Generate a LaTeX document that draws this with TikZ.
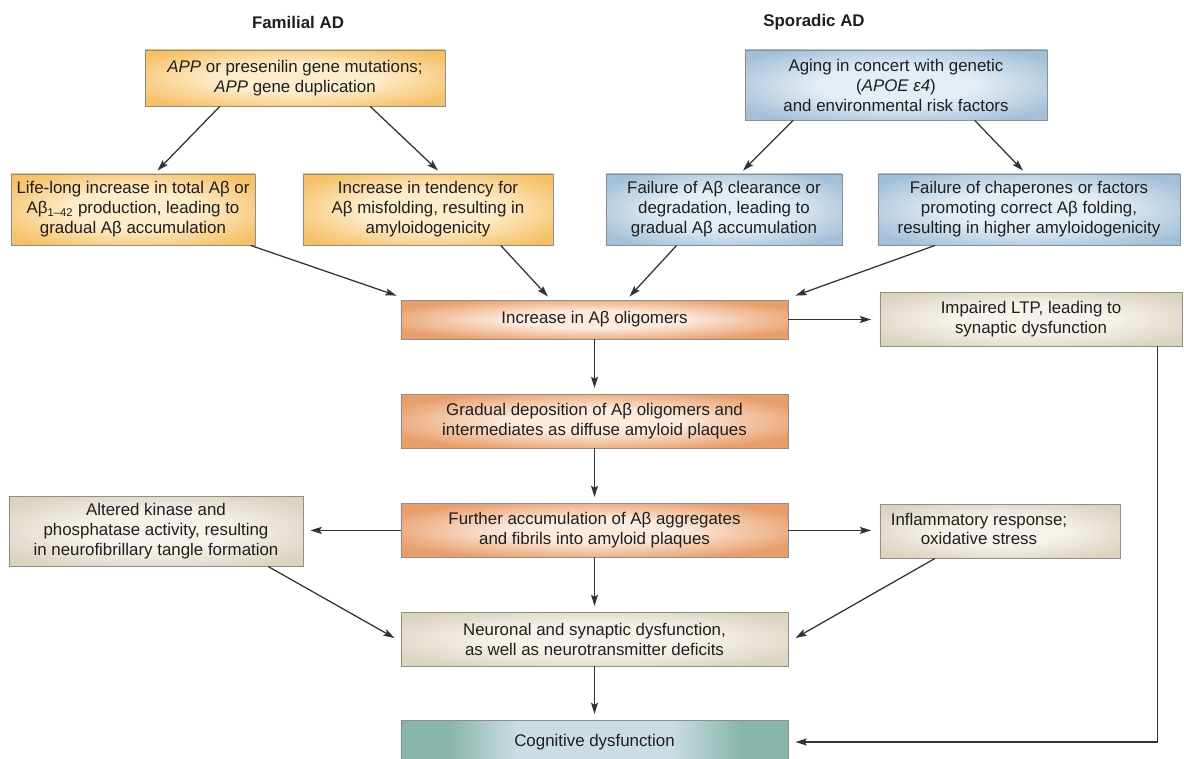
\documentclass[tikz,border=0pt]{standalone}
\usepackage{fontspec}
\setmainfont{Liberation Sans}
\usetikzlibrary{calc,arrows.meta}

\definecolor{famedge}{HTML}{F6C066}
\definecolor{famglow}{HTML}{FDECCB}
\definecolor{spoedge}{HTML}{A2BFD8}
\definecolor{spoglow}{HTML}{E4EDF4}
\definecolor{amyedge}{HTML}{E89E6B}
\definecolor{amyglow}{HTML}{FCEADD}
\definecolor{effedge}{HTML}{DBD2BF}
\definecolor{effglow}{HTML}{F6F2EB}
\definecolor{cogedge}{HTML}{88B5A9}
\definecolor{cogglow}{HTML}{CADDE3}
\definecolor{boxline}{HTML}{8E8E8E}
\definecolor{arrowline}{HTML}{333333}

\pgfdeclareradialshading{famshade}{\pgfpoint{0bp}{0bp}}{color(0bp)=(famglow); color(13bp)=(famglow); color(31bp)=(famedge); color(50bp)=(famedge)}
\pgfdeclareradialshading{sposhade}{\pgfpoint{0bp}{0bp}}{color(0bp)=(spoglow); color(13bp)=(spoglow); color(31bp)=(spoedge); color(50bp)=(spoedge)}
\pgfdeclareradialshading{amyshade}{\pgfpoint{0bp}{0bp}}{color(0bp)=(amyglow); color(11bp)=(amyglow); color(29bp)=(amyedge); color(50bp)=(amyedge)}
\pgfdeclareradialshading{effshade}{\pgfpoint{0bp}{0bp}}{color(0bp)=(effglow); color(13bp)=(effglow); color(31bp)=(effedge); color(50bp)=(effedge)}
\pgfdeclarehorizontalshading{cogshade}{100bp}{color(0bp)=(cogedge); color(31bp)=(cogedge); color(40bp)=(cogglow); color(60bp)=(cogglow); color(69bp)=(cogedge); color(100bp)=(cogedge)}

\begin{document}
\begin{tikzpicture}[x=0.025cm, y=-0.025cm,
    box/.style={draw=boxline, line width=0.6pt, align=center, inner sep=0pt, text=black!88, font=\fontsize{12pt}{14.2pt}\selectfont},
    fambox/.style={box, shading=famshade},
    spobox/.style={box, shading=sposhade},
    amybox/.style={box, shading=amyshade, minimum width=9.675cm, minimum height=1.35cm},
    effbox/.style={box, shading=effshade},
    head/.style={text=black!88, font=\fontsize{12pt}{14.2pt}\selectfont\bfseries},
    arr/.style={draw=arrowline, line width=0.9pt, -{Stealth[length=8pt, width=5pt, inset=1.5pt]}}]

        \useasboundingbox (0,0) rectangle (1184,758);
        \clip (0,0) rectangle (1184,758);

        \node[head] (famhead) at (298,22) {Familial AD};
        \node[head] (spohead) at (814,22) {Sporadic AD};

        % causes
        \node[fambox, minimum width=7.5cm, minimum height=1.4cm] (famTop) at (295,78) {\textit{APP} or presenilin gene mutations;\\\textit{APP} gene duplication};
        \node[spobox, minimum width=7.55cm, minimum height=1.75cm] (spoTop) at (896,85) {Aging in concert with genetic\\(\textit{APOE ε4})\\and environmental risk factors};

        \node[fambox, minimum width=6.1cm, minimum height=1.775cm] (fam1) at (133,209.5) {Life-long increase in total Aβ or\\Aβ\textsubscript{1–42} production, leading to\\gradual Aβ accumulation};
        \node[fambox, minimum width=6.25cm, minimum height=1.775cm] (fam2) at (428,209.5) {Increase in tendency for\\Aβ misfolding, resulting in\\amyloidogenicity};
        \node[spobox, minimum width=5.9cm, minimum height=1.775cm] (spo1) at (724,209.5) {Failure of Aβ clearance or\\degradation, leading to\\gradual Aβ accumulation};
        \node[spobox, minimum width=7.55cm, minimum height=1.775cm] (spo2) at (1029,209.5) {Failure of chaperones or factors\\promoting correct Aβ folding,\\resulting in higher amyloidogenicity};

        % amyloid cascade
        \node[amybox, minimum height=0.975cm] (olig) at (594.5,319.5) {Increase in Aβ oligomers};
        \node[amybox] (depo) at (594.5,421) {Gradual deposition of Aβ oligomers and\\intermediates as diffuse amyloid plaques};
        \node[amybox] (further) at (594.5,530) {Further accumulation of Aβ aggregates\\and fibrils into amyloid plaques};

        % effects
        \node[effbox, minimum width=7.55cm, minimum height=1.35cm] (ltp) at (1031,319) {Impaired LTP, leading to\\synaptic dysfunction};
        \node[effbox, minimum width=7.35cm, minimum height=1.75cm] (kinase) at (156,531) {Altered kinase and\\phosphatase activity, resulting\\in neurofibrillary tangle formation};
        \node[effbox, minimum width=6cm, minimum height=1.35cm] (inflam) at (1000,531) {\begin{tabular}{@{}c@{}}Inflammatory response;\\oxidative stress\end{tabular}\hspace*{1.05cm}};
        \node[effbox, minimum width=9.675cm, minimum height=1.35cm] (neuro) at (594.5,639) {Neuronal and synaptic dysfunction,\\as well as neurotransmitter deficits};
        \node[box, shading=cogshade, minimum width=9.675cm, minimum height=1.1cm] (cog) at (594.5,742) {Cognitive dysfunction};

        \draw[arr] ($(famTop.south west)!0.25!(famTop.south east)$) -- ($(fam1.north west)!0.6!(fam1.north east)+(0,-3)$);
        \draw[arr] ($(famTop.south west)!0.75!(famTop.south east)$) -- ($(fam2.north west)!0.54!(fam2.north east)+(0,-3)$);
        \draw[arr] ($(spoTop.south west)!0.16!(spoTop.south east)$) -- ($(spo1.north west)!0.58!(spo1.north east)+(0,-3)$);
        \draw[arr] ($(spoTop.south west)!0.76!(spoTop.south east)$) -- ($(spo2.north west)!0.48!(spo2.north east)+(0,-3)$);

        \draw[arr] ($(fam1.south west)!0.98!(fam1.south east)$) -- ($(olig.north west)+(-4,-4)$);
        \draw[arr] ($(fam2.south west)!0.79!(fam2.south east)$) -- ($(olig.north west)!0.38!(olig.north east)+(0,-3)$);
        \draw[arr] ($(spo1.south west)!0.3!(spo1.south east)$) -- ($(olig.north west)!0.59!(olig.north east)+(0,-3)$);
        \draw[arr] ($(spo2.south west)!0.19!(spo2.south east)$) -- ($(olig.north east)+(7,-4)$);

        \draw[arr, shorten >=6pt] (olig.east) -- (olig.east -| ltp.west);
        \draw[arr, shorten >=4pt] (olig) -- (depo);
        \draw[arr, shorten >=4pt] (depo) -- (further);
        \draw[arr, shorten >=5pt] ($(further.west)+(0,0.4)$) -- ($(further.west -| kinase.east)+(0,0.4)$);
        \draw[arr, shorten >=6pt] ($(further.east)+(0,0.4)$) -- ($(further.east -| inflam.west)+(0,0.4)$);
        \draw[arr, shorten >=4pt] (further) -- (neuro);
        \draw[arr] ($(kinase.south west)!0.88!(kinase.south east)$) -- ($(neuro.west)+(-6,-1)$);
        \draw[arr] ($(inflam.south west)!0.23!(inflam.south east)$) -- ($(neuro.east)+(7,-1)$);
        \draw[arr, shorten >=4pt] (neuro) -- (cog);
        \draw[arr, shorten >=5pt] ($(ltp.south west)!0.917!(ltp.south east)$) |- (cog.east);
\end{tikzpicture}
\end{document}
